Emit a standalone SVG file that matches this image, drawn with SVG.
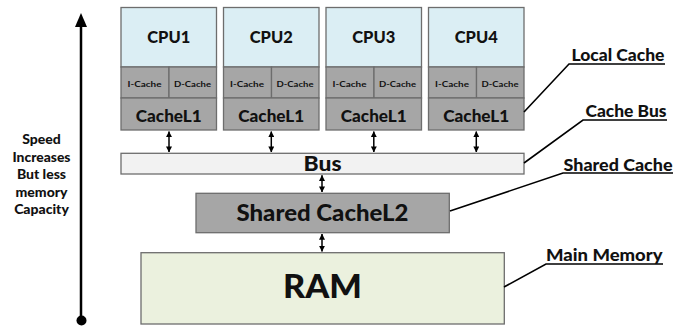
<svg xmlns="http://www.w3.org/2000/svg" width="687" height="327" viewBox="0 0 687 327">
<style>
text{font-family:Lato,"Liberation Sans",sans-serif;font-weight:900;fill:#111;text-anchor:middle}
.cpu{fill:#dbeef4;stroke:#6d6d6d;stroke-width:1.3}
.gr{fill:#a6a6a6;stroke:#6d6d6d;stroke-width:1.3}
.t16{font-size:16.5px}
.t7{font-size:8px;font-weight:bold}
.lbl{font-size:16px;text-anchor:start}
.side{font-size:14px}
.con{stroke:#000;stroke-width:1.5;fill:none}
.lead{stroke:#000;stroke-width:1.6;fill:none}
</style>
<defs>
<marker id="ah" viewBox="0 0 8 8" refX="7.5" refY="4" markerWidth="6" markerHeight="6" orient="auto-start-reverse" markerUnits="userSpaceOnUse">
<path d="M0,0 L8,4 L0,8 Z" fill="#000"/>
</marker>
</defs>
<g id="speed-axis">
<line x1="81" y1="25" x2="81" y2="318" stroke="#000" stroke-width="2.5"/>
<polygon points="81,13 75,27 87,27" fill="#000"/>
<circle cx="81.5" cy="320.5" r="5" fill="#000"/>
<text class="side" x="41.5" y="144">Speed</text>
<text class="side" x="41.5" y="161.5" textLength="58" lengthAdjust="spacingAndGlyphs">Increases</text>
<text class="side" x="41.5" y="179">But less</text>
<text class="side" x="41.5" y="196.5">memory</text>
<text class="side" x="41.5" y="214">Capacity</text>
</g>
<g id="cpu1">
<rect class="cpu" x="121" y="7.5" width="95.5" height="59.5"/>
<rect class="gr" x="121" y="67" width="48" height="31"/>
<rect class="gr" x="169" y="67" width="47.5" height="31"/>
<rect class="gr" x="121" y="98" width="95.5" height="32"/>
<text class="t16" x="168.75" y="43.3" textLength="43" lengthAdjust="spacingAndGlyphs">CPU1</text>
<text class="t7" x="144.5" y="86.5" textLength="34" lengthAdjust="spacingAndGlyphs">I-Cache</text>
<text class="t7" x="192.5" y="86.5" textLength="37" lengthAdjust="spacingAndGlyphs">D-Cache</text>
<text class="t16" x="168.75" y="121.7" textLength="66" lengthAdjust="spacingAndGlyphs">CacheL1</text>
</g>
<g id="cpu2">
<rect class="cpu" x="223.5" y="7.5" width="95.5" height="59.5"/>
<rect class="gr" x="223.5" y="67" width="48" height="31"/>
<rect class="gr" x="271.5" y="67" width="47.5" height="31"/>
<rect class="gr" x="223.5" y="98" width="95.5" height="32"/>
<text class="t16" x="271.25" y="43.3" textLength="43" lengthAdjust="spacingAndGlyphs">CPU2</text>
<text class="t7" x="247" y="86.5" textLength="34" lengthAdjust="spacingAndGlyphs">I-Cache</text>
<text class="t7" x="295" y="86.5" textLength="37" lengthAdjust="spacingAndGlyphs">D-Cache</text>
<text class="t16" x="271.25" y="121.7" textLength="66" lengthAdjust="spacingAndGlyphs">CacheL1</text>
</g>
<g id="cpu3">
<rect class="cpu" x="326" y="7.5" width="95.5" height="59.5"/>
<rect class="gr" x="326" y="67" width="48" height="31"/>
<rect class="gr" x="374" y="67" width="47.5" height="31"/>
<rect class="gr" x="326" y="98" width="95.5" height="32"/>
<text class="t16" x="373.75" y="43.3" textLength="43" lengthAdjust="spacingAndGlyphs">CPU3</text>
<text class="t7" x="349.5" y="86.5" textLength="34" lengthAdjust="spacingAndGlyphs">I-Cache</text>
<text class="t7" x="397.5" y="86.5" textLength="37" lengthAdjust="spacingAndGlyphs">D-Cache</text>
<text class="t16" x="373.75" y="121.7" textLength="66" lengthAdjust="spacingAndGlyphs">CacheL1</text>
</g>
<g id="cpu4">
<rect class="cpu" x="428.5" y="7.5" width="95.5" height="59.5"/>
<rect class="gr" x="428.5" y="67" width="48" height="31"/>
<rect class="gr" x="476.5" y="67" width="47.5" height="31"/>
<rect class="gr" x="428.5" y="98" width="95.5" height="32"/>
<text class="t16" x="476.25" y="43.3" textLength="43" lengthAdjust="spacingAndGlyphs">CPU4</text>
<text class="t7" x="452" y="86.5" textLength="34" lengthAdjust="spacingAndGlyphs">I-Cache</text>
<text class="t7" x="500" y="86.5" textLength="37" lengthAdjust="spacingAndGlyphs">D-Cache</text>
<text class="t16" x="476.25" y="121.7" textLength="66" lengthAdjust="spacingAndGlyphs">CacheL1</text>
</g>
<g id="bus">
<rect x="121" y="153.3" width="403" height="20.7" fill="#f2f2f2" stroke="#6d6d6d" stroke-width="1.3"/>
<text x="322.5" y="170.7" font-size="20.5px" textLength="38" lengthAdjust="spacingAndGlyphs">Bus</text>
</g>
<g id="shared-l2">
<rect class="gr" x="196" y="193.3" width="253.3" height="39.4"/>
<text x="322.5" y="220.7" font-size="22px" textLength="172" lengthAdjust="spacingAndGlyphs">Shared CacheL2</text>
</g>
<g id="ram">
<rect x="141" y="252.7" width="363.3" height="71.3" fill="#ebf1de" stroke="#6d6d6d" stroke-width="1.3"/>
<text x="322.5" y="298.3" font-size="32.5px" textLength="79" lengthAdjust="spacingAndGlyphs">RAM</text>
</g>
<g id="connectors">
<line class="con" x1="169" y1="131.5" x2="169" y2="152" marker-start="url(#ah)" marker-end="url(#ah)"/>
<line class="con" x1="271.3" y1="131.5" x2="271.3" y2="152" marker-start="url(#ah)" marker-end="url(#ah)"/>
<line class="con" x1="373.8" y1="131.5" x2="373.8" y2="152" marker-start="url(#ah)" marker-end="url(#ah)"/>
<line class="con" x1="476.3" y1="131.5" x2="476.3" y2="152" marker-start="url(#ah)" marker-end="url(#ah)"/>
<line class="con" x1="322" y1="175.3" x2="322" y2="192" marker-start="url(#ah)" marker-end="url(#ah)"/>
<line class="con" x1="322" y1="234" x2="322" y2="251.4" marker-start="url(#ah)" marker-end="url(#ah)"/>
<polyline class="lead" points="524,112 569,64 665,64"/>
<polyline class="lead" points="524,163 583,120 667,120"/>
<polyline class="lead" points="450,211 563,173 673,173"/>
<polyline class="lead" points="504,287 546,264 663,264"/>
</g>
<g id="labels">
<text class="lbl" x="571.5" y="61" textLength="93" lengthAdjust="spacingAndGlyphs">Local Cache</text>
<text class="lbl" x="585.5" y="117" textLength="81" lengthAdjust="spacingAndGlyphs">Cache Bus</text>
<text class="lbl" x="563.5" y="170.5" textLength="109" lengthAdjust="spacingAndGlyphs">Shared Cache</text>
<text class="lbl" x="546" y="260.5" textLength="116.5" lengthAdjust="spacingAndGlyphs">Main Memory</text>
</g>
</svg>
